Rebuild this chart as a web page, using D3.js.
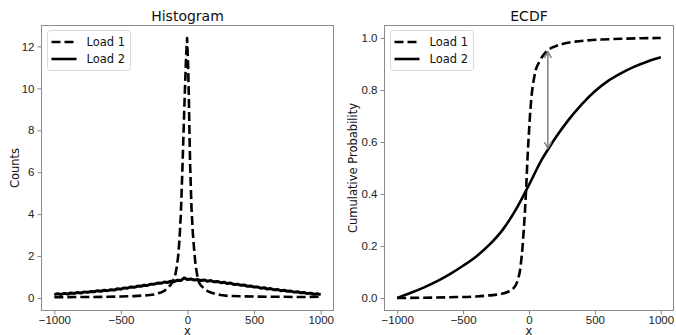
<!DOCTYPE html>
<html>
<head>
<meta charset="utf-8">
<script src="https://cdn.jsdelivr.net/npm/d3@7"></script>
<style>
  body { margin: 0; background: #fff; }
  svg { display: block; font-family: "DejaVu Sans", sans-serif; }
  .tick text { fill: #222; font-size: 11.5px; }
</style>
</head>
<body>
<div id="chart"></div>
<script>
// * Data
const SERIES = ["Load 1", "Load 2"];
const X_TICKS = [-1000, -500, 0, 500, 1000];
const HIST_Y_TICKS = [0, 2, 4, 6, 8, 10, 12];
const ECDF_Y_TICKS = [0, 0.2, 0.4, 0.6, 0.8, 1.0];

// histogram, Load 1 (dashed, sharp peak)
const HIST_X1 = [-1000, -900, -800, -700, -600, -500, -400, -300, -250, -200, -175, -150, -125, -100, -90, -80, -70, -60, -50, -40, -30, -20, -10, -3, 5, 10, 15, 20, 30, 40, 50, 60, 70, 80, 90, 100, 125, 150, 175, 200, 250, 300, 400, 500, 600, 700, 800, 900, 1000];
const HIST_LOAD1 = [0.04, 0.04, 0.05, 0.05, 0.06, 0.07, 0.09, 0.13, 0.17, 0.26, 0.34, 0.46, 0.64, 0.92, 1.15, 1.5, 2.0, 2.8, 4.0, 5.8, 7.8, 9.8, 11.6, 12.4, 11.0, 9.6, 7.8, 6.3, 4.3, 3.1, 2.3, 1.6, 1.2, 0.85, 0.7, 0.6, 0.45, 0.33, 0.26, 0.21, 0.14, 0.1, 0.08, 0.07, 0.06, 0.06, 0.05, 0.05, 0.06];

// histogram, Load 2 (solid, broad and noisy)
const HIST_X2 = [-1000, -975, -950, -925, -900, -875, -850, -825, -800, -775, -750, -725, -700, -675, -650, -625, -600, -575, -550, -525, -500, -475, -450, -425, -400, -375, -350, -325, -300, -275, -250, -225, -200, -175, -150, -125, -100, -75, -50, -25, 0, 25, 50, 75, 100, 125, 150, 175, 200, 225, 250, 275, 300, 325, 350, 375, 400, 425, 450, 475, 500, 525, 550, 575, 600, 625, 650, 675, 700, 725, 750, 775, 800, 825, 850, 875, 900, 925, 950, 975, 1000];
const HIST_LOAD2 = [0.16, 0.21, 0.17, 0.22, 0.19, 0.24, 0.22, 0.26, 0.24, 0.29, 0.27, 0.31, 0.3, 0.35, 0.32, 0.37, 0.35, 0.39, 0.38, 0.44, 0.42, 0.48, 0.47, 0.53, 0.51, 0.57, 0.56, 0.61, 0.6, 0.66, 0.66, 0.71, 0.7, 0.76, 0.74, 0.8, 0.78, 0.85, 0.83, 0.96, 0.88, 0.91, 0.86, 0.88, 0.83, 0.86, 0.8, 0.83, 0.77, 0.79, 0.73, 0.75, 0.69, 0.71, 0.64, 0.66, 0.61, 0.62, 0.56, 0.57, 0.52, 0.53, 0.47, 0.49, 0.43, 0.45, 0.39, 0.41, 0.35, 0.37, 0.32, 0.33, 0.28, 0.3, 0.25, 0.26, 0.21, 0.23, 0.18, 0.2, 0.16];

// ECDF, Load 1
const ECDF_X1 = [-1000, -800, -600, -400, -300, -200, -150, -120, -100, -90, -80, -70, -60, -50, -40, -30, -20, -10, 0, 10, 20, 30, 40, 50, 60, 75, 100, 135, 200, 260, 350, 450, 550, 700, 850, 1000];
const ECDF_LOAD1 = [0.0, 0.001, 0.003, 0.006, 0.01, 0.017, 0.026, 0.036, 0.05, 0.062, 0.08, 0.1, 0.14, 0.19, 0.26, 0.34, 0.44, 0.55, 0.64, 0.72, 0.78, 0.82, 0.85, 0.875, 0.89, 0.905, 0.928, 0.95, 0.968, 0.978, 0.986, 0.991, 0.994, 0.997, 0.999, 1.0];

// ECDF, Load 2
const ECDF_X2 = [-1000, -900, -800, -700, -600, -500, -400, -300, -200, -100, 0, 100, 150, 200, 300, 400, 500, 600, 700, 800, 900, 1000];
const ECDF_LOAD2 = [0.0, 0.019, 0.04, 0.064, 0.092, 0.124, 0.16, 0.205, 0.262, 0.34, 0.435, 0.535, 0.576, 0.615, 0.685, 0.745, 0.795, 0.835, 0.865, 0.89, 0.91, 0.926];

// largest gap between the two ECDFs
const ARROW_X = 143;
const ARROW_FROM = 0.947;
const ARROW_TO = 0.576;

const width = 676;
const height = 335;
const plotTop = 25,
  plotBottom = 311;

const svg = d3
  .select("#chart")
  .append("svg")
  .attr("width", width)
  .attr("height", height);

const fmtX = (d) => (d < 0 ? "\u2212" + Math.abs(d) : String(d));

// *Draws one panel: frame, axes, title and labels
function panel(left, right, yDomain, yTicks, yFmt, title, yLabel, yLabelX) {
  const x = d3.scaleLinear().domain([-1100, 1100]).range([left, right]);
  const y = d3.scaleLinear().domain(yDomain).range([plotBottom, plotTop]);

  const xAxis = svg
    .append("g")
    .attr("transform", "translate(0," + plotBottom + ")")
    .call(d3.axisBottom(x).tickValues(X_TICKS).tickFormat(fmtX).tickSizeInner(3.5).tickSizeOuter(0).tickPadding(1));
  const yAxis = svg
    .append("g")
    .attr("transform", "translate(" + left + ",0)")
    .call(d3.axisLeft(y).tickValues(yTicks).tickFormat(yFmt).tickSizeInner(3.5).tickSizeOuter(0).tickPadding(3));
  [xAxis, yAxis].forEach((a) => {
    a.select(".domain").remove();
    a.selectAll(".tick line").attr("stroke", "#888");
  });

  svg
    .append("rect")
    .attr("x", left + 0.5)
    .attr("y", plotTop + 0.5)
    .attr("width", right - left - 1)
    .attr("height", plotBottom - plotTop - 1)
    .attr("fill", "none")
    .attr("stroke", "#8c8c8c")
    .attr("stroke-width", 1);

  svg
    .append("text")
    .attr("x", (left + right) / 2)
    .attr("y", 21)
    .attr("text-anchor", "middle")
    .attr("font-size", 14)
    .attr("fill", "#111")
    .text(title);

  // x label sits right at the bottom edge, as in the reference
  svg
    .append("text")
    .attr("x", (left + right) / 2)
    .attr("y", 335)
    .attr("text-anchor", "middle")
    .attr("font-size", 11.5)
    .attr("fill", "#111")
    .text("x");

  svg
    .append("text")
    .attr("transform", "translate(" + yLabelX + "," + (plotTop + plotBottom) / 2 + ") rotate(-90)")
    .attr("text-anchor", "middle")
    .attr("font-size", 11.5)
    .attr("fill", "#111")
    .text(yLabel);

  return { x, y, left };
}

function drawLine(p, xs, ys, dashed, curve, sw) {
  const line = d3
    .line()
    .x((d, i) => p.x(xs[i]))
    .y((d) => p.y(d))
    .curve(curve);
  svg
    .append("path")
    .datum(ys)
    .attr("d", line)
    .attr("fill", "none")
    .attr("stroke", "#000")
    .attr("stroke-width", sw)
    .attr("stroke-linejoin", "round")
    .attr("stroke-dasharray", dashed ? "9,4" : null);
}

function legend(p) {
  const bx = p.left + 6.5,
    by = 30.5;
  svg
    .append("rect")
    .attr("x", bx)
    .attr("y", by)
    .attr("width", 83)
    .attr("height", 40)
    .attr("rx", 3)
    .attr("fill", "#fff")
    .attr("fill-opacity", 0.8)
    .attr("stroke", "#d9d9d9");
  SERIES.forEach((s, i) => {
    const ly = 42 + i * 17;
    svg
      .append("line")
      .attr("x1", bx + 4)
      .attr("x2", bx + 29)
      .attr("y1", ly)
      .attr("y2", ly)
      .attr("stroke", "#000")
      .attr("stroke-width", 2.6)
      .attr("stroke-dasharray", i === 0 ? "9,4" : null);
    svg
      .append("text")
      .attr("x", bx + 39)
      .attr("y", ly + 4)
      .attr("font-size", 11.5)
      .attr("fill", "#111")
      .text(s);
  });
}

// *Histogram panel
const hist = panel(41, 334, [-0.62, 13.02], HIST_Y_TICKS, (d) => d, "Histogram", "Counts", 19);
drawLine(hist, HIST_X1, HIST_LOAD1, true, d3.curveLinear, 2.6);
drawLine(hist, HIST_X2, HIST_LOAD2, false, d3.curveLinear, 3);
legend(hist);

// *ECDF panel
const ecdf = panel(384, 674, [-0.05, 1.05], ECDF_Y_TICKS, d3.format(".1f"), "ECDF", "Cumulative Probability", 357);
drawLine(ecdf, ECDF_X1, ECDF_LOAD1, true, d3.curveMonotoneX, 2.6);
drawLine(ecdf, ECDF_X2, ECDF_LOAD2, false, d3.curveMonotoneX, 2.6);

// *Double headed arrow for the max distance
const ax = ecdf.x(ARROW_X);
const ay1 = ecdf.y(ARROW_FROM);
const ay2 = ecdf.y(ARROW_TO);
const arrow = svg.append("g").attr("stroke", "#808080").attr("stroke-width", 1.5).attr("fill", "none");
arrow.append("line").attr("x1", ax).attr("x2", ax).attr("y1", ay1).attr("y2", ay2);
arrow.append("path").attr("d", `M${ax - 3.5},${ay1 + 6}L${ax},${ay1}L${ax + 3.5},${ay1 + 6}`);
arrow.append("path").attr("d", `M${ax - 3.5},${ay2 - 6}L${ax},${ay2}L${ax + 3.5},${ay2 - 6}`);

legend(ecdf);
</script>
</body>
</html>
